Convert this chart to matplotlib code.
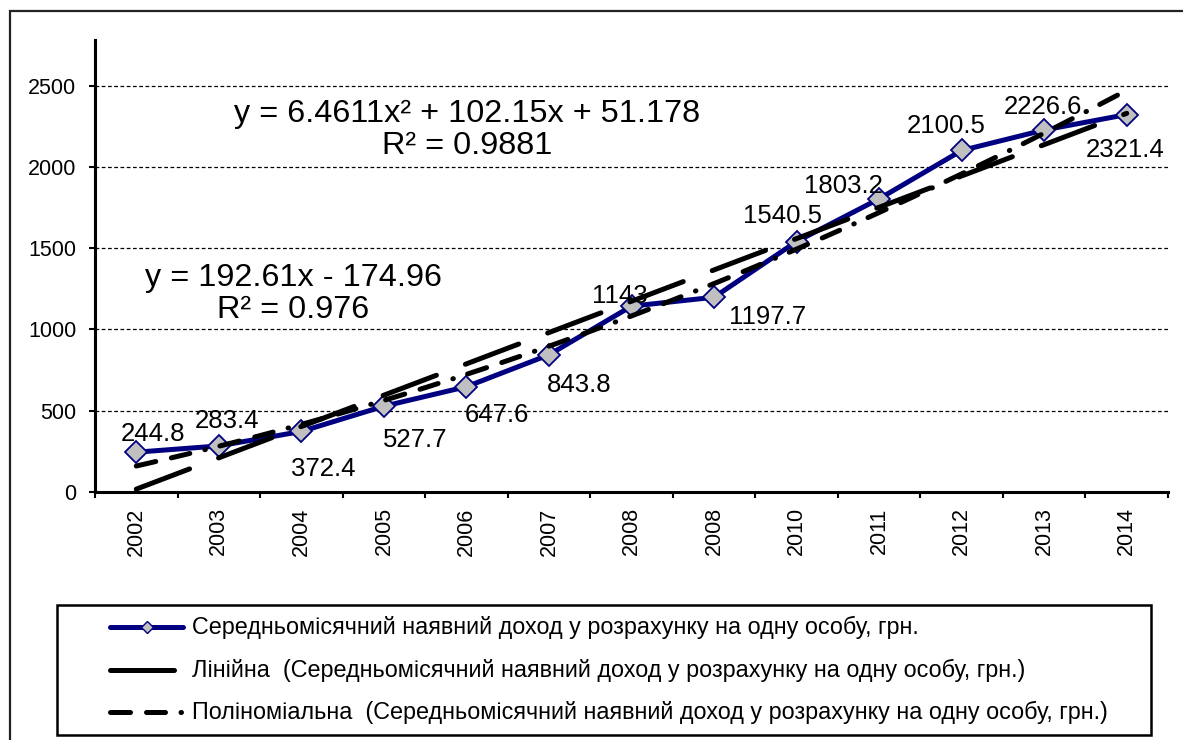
import numpy as np
import matplotlib
matplotlib.use("Agg")
import matplotlib.pyplot as plt
from matplotlib.lines import Line2D
from matplotlib.patches import Rectangle

plt.rcParams['font.family'] = ['Liberation Sans', 'DejaVu Sans']

# data
years = ['2002', '2003', '2004', '2005', '2006', '2007', '2008',
         '2008', '2010', '2011', '2012', '2013', '2014']
income = [244.8, 283.4, 372.4, 527.7, 647.6, 843.8, 1143,
          1197.7, 1540.5, 1803.2, 2100.5, 2226.6, 2321.4]
labels_text = ['244.8', '283.4', '372.4', '527.7', '647.6', '843.8', '1143',
               '1197.7', '1540.5', '1803.2', '2100.5', '2226.6', '2321.4']

series_name = 'Середньомісячний наявний доход у розрахунку на одну особу, грн.'
lin_name = 'Лінійна  (Середньомісячний наявний доход у розрахунку на одну особу, грн.)'
poly_name = 'Поліноміальна  (Середньомісячний наявний доход у розрахунку на одну особу, грн.)'
poly_eq = 'y = 6.4611x² + 102.15x + 51.178\nR² = 0.9881'
lin_eq = 'y = 192.61x - 174.96\nR² = 0.976'

# label offsets in pixels (dx, dy) from each marker
label_offsets = [(17, 18), (8, 25), (22, -38), (31, -34), (31, -28), (30, -30),
                 (-12, 10), (54, -20), (-14, 26), (-36, 13), (-15, 24), (-1, 23), (-2, -35)]

W, H = 1183, 740
fig = plt.figure(figsize=(W / 100, H / 100), dpi=100)
ax = fig.add_axes([95 / W, 1 - 492 / H, (1168 - 95) / W, (492 - 40) / H])

pos = np.arange(len(years))
xnum = pos + 1.0

# trend lines from the data
lin_c = np.polyfit(xnum, income, 1)
poly_c = np.polyfit(xnum, income, 2)
xs = np.linspace(1, 13, 300)

navy = '#000080'
poly_dash = (4, 3.2, 3.8, 3.1, 0.1, 3)
ax.plot(xs - 1, np.polyval(lin_c, xs), color='black', lw=3.6,
        dashes=(11.4, 6.2), dash_capstyle='round', zorder=3)
ax.plot(xs - 1, np.polyval(poly_c, xs), color='black', lw=3.6,
        dashes=poly_dash, dash_capstyle='round', zorder=4)
ax.plot(pos, income, color=navy, lw=3.6, marker='D', ms=11.5,
        mfc='#C0C0C0', mec=navy, mew=1.3, zorder=2)

for p, v, t, (dx, dy) in zip(pos, income, labels_text, label_offsets):
    ax.annotate(t, (p, v), xytext=(dx * 0.72, dy * 0.72), textcoords='offset points',
                ha='center', va='center', fontsize=18.5, zorder=6)

ax.set_xlim(-0.5, len(years) - 0.5)
ax.set_ylim(0, 2780)
ax.set_yticks([0, 500, 1000, 1500, 2000, 2500])
ax.set_xticks(pos)
ax.set_xticklabels(years, rotation=90, fontsize=15.5)
ax.set_xticks(np.arange(-0.5, len(years), 1.0), minor=True)
ax.tick_params(axis='x', which='major', length=0, pad=11)
ax.tick_params(axis='x', which='minor', length=4.5, width=1.5, direction='out')
ax.tick_params(axis='y', length=4.5, width=1.5, direction='out', pad=9, labelsize=15.5)

for s in ['top', 'right']:
    ax.spines[s].set_visible(False)
ax.spines['left'].set_linewidth(2.2)
ax.spines['bottom'].set_linewidth(2.2)
ax.yaxis.grid(True, color='black', lw=0.9, linestyle=(0, (3, 2)))
ax.set_axisbelow(True)

fig.text(467 / W, 1 - 130 / H, poly_eq, ha='center', va='center',
         multialignment='center', fontsize=23.3, linespacing=1.05)
fig.text(293 / W, 1 - 294 / H, lin_eq, ha='center', va='center',
         multialignment='center', fontsize=23.3, linespacing=1.05)

# legend drawn by hand to match the boxed layout
tf = fig.transFigure
fig.patches.append(Rectangle((57 / W, 1 - 735 / H), (1151 - 57) / W, 130 / H,
                             transform=tf, fill=False, edgecolor='black', lw=1.8))
rows_y = [627, 670, 712]
handle_styles = [
    dict(color=navy, lw=3.6, solid_capstyle='round'),
    dict(color='black', lw=3.6, solid_capstyle='round'),
    dict(color='black', lw=3.6, dashes=poly_dash, dash_capstyle='round'),
]
handle_ends = [183, 174, 181]
for ry, hk, x_end, name in zip(rows_y, handle_styles, handle_ends,
                               [series_name, lin_name, poly_name]):
    yy = 1 - ry / H
    fig.lines.append(Line2D([109.5 / W, x_end / W], [yy, yy], transform=tf, **hk))
    fig.text(192 / W, yy, name, ha='left', va='center', fontsize=16.8)
fig.lines.append(Line2D([147 / W], [1 - rows_y[0] / H], transform=tf, marker='D', ms=6,
                        mfc='#C0C0C0', mec=navy, mew=1, ls='none'))

# outer chart frame
fig.patches.append(Rectangle((10 / W, -0.1), 1.2, 1 - 11 / H + 0.1, transform=tf,
                             fill=False, edgecolor='#222222', lw=1.6))

fig.savefig('out.png', dpi=100)
